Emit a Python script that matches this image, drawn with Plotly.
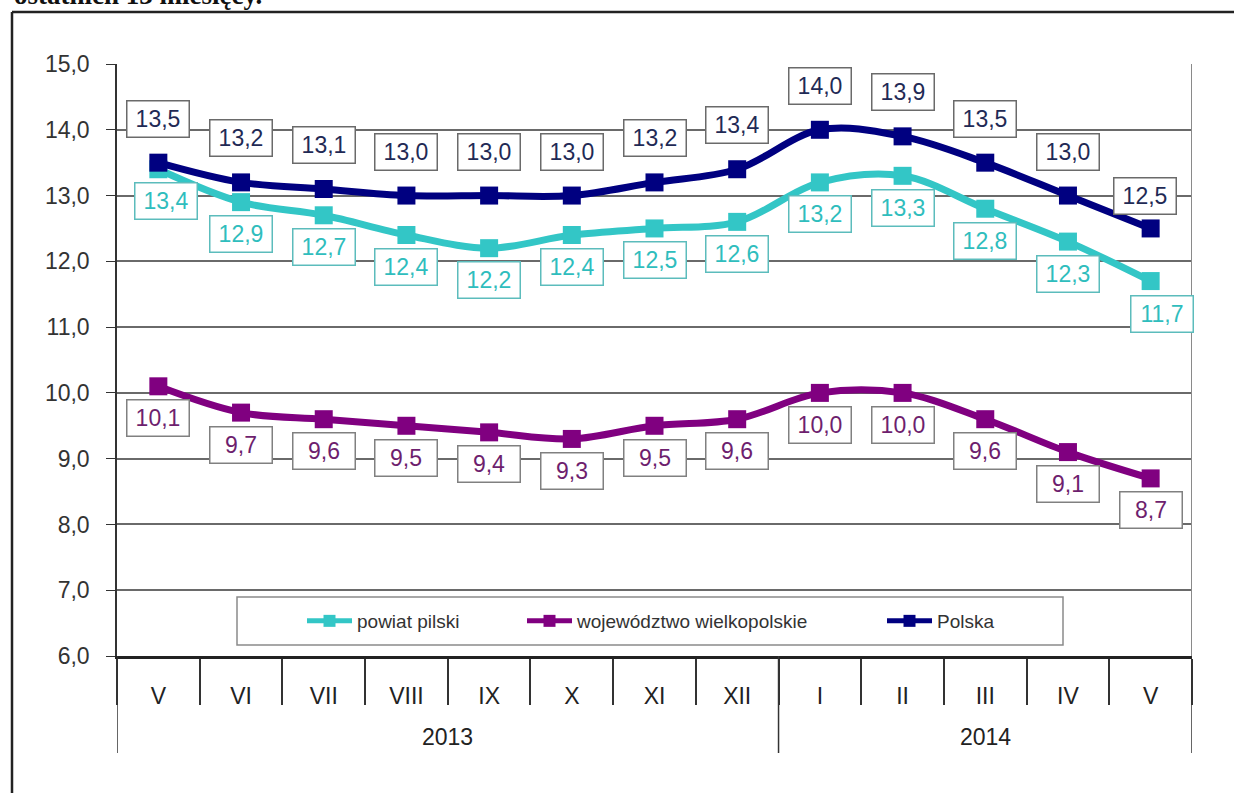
import plotly.graph_objects as go

# dane: stopa bezrobocia (%) w ostatnich 13 miesiącach
months = ["V", "VI", "VII", "VIII", "IX", "X", "XI", "XII", "I", "II", "III", "IV", "V"]
years = ["2013", "2013", "2013", "2013", "2013", "2013", "2013", "2013",
         "2014", "2014", "2014", "2014", "2014"]

powiat_pilski = [13.4, 12.9, 12.7, 12.4, 12.2, 12.4, 12.5, 12.6, 13.2, 13.3, 12.8, 12.3, 11.7]
wielkopolskie = [10.1, 9.7, 9.6, 9.5, 9.4, 9.3, 9.5, 9.6, 10.0, 10.0, 9.6, 9.1, 8.7]
polska = [13.5, 13.2, 13.1, 13.0, 13.0, 13.0, 13.2, 13.4, 14.0, 13.9, 13.5, 13.0, 12.5]

# plot area in pixels (figure is 1234 x 793)
W, H = 1234, 793
L, R, T, B = 117, 1192, 64, 656


def px_x(px):
    return (px - L) / (R - L)


def px_y(py):
    return (B - py) / (B - T)


FONT = "Liberation Sans, Arial, sans-serif"

series = [
    dict(name="powiat pilski", values=powiat_pilski, color="#33c6c6",
         txt="#2fbdbd", border="#5cbcbc", dy=32, legend="legend", text_x=357),
    dict(name="województwo wielkopolskie", values=wielkopolskie, color="#800080",
         txt="#6e1f6e", border="#808080", dy=32, legend="legend2", text_x=577),
    dict(name="Polska", values=polska, color="#000080",
         txt="#1f2a55", border="#6a6a6a", dy=-44, legend="legend3", text_x=937),
]

# small manual tweaks of some label boxes (xshift, yshift)
label_tweaks = {("Polska", 12): (-6, -32),
                ("powiat pilski", 0): (8, 32),
                ("powiat pilski", 12): (11, 33)}

xs = list(range(len(months)))
fig = go.Figure()

for s in series:
    fig.add_trace(go.Scatter(
        x=xs, y=s["values"], name=s["name"], mode="lines+markers",
        line=dict(color=s["color"], width=7, shape="spline", smoothing=1.0),
        marker=dict(symbol="square", size=18, color=s["color"]),
        legend=s["legend"], hoverinfo="name+y",
    ))

annotations = []
for s in series:
    for i, v in enumerate(s["values"]):
        dx, dy = label_tweaks.get((s["name"], i), (0, s["dy"]))
        annotations.append(dict(
            x=i, y=v, xref="x", yref="y", showarrow=False,
            text=f"{v:.1f}".replace(".", ","),
            font=dict(family=FONT, size=23, color=s["txt"]),
            bgcolor="white", bordercolor=s["border"], borderwidth=1.5,
            borderpad=1, width=59, height=33,
            xshift=dx, yshift=-dy,
        ))

# year labels centred under their month groups
year_names = []
for y in years:
    if y not in year_names:
        year_names.append(y)
for y in year_names:
    idx = [i for i, yy in enumerate(years) if yy == y]
    annotations.append(dict(
        x=(idx[0] + idx[-1]) / 2, y=px_y(737), xref="x", yref="paper",
        text=y, showarrow=False, yanchor="middle",
        font=dict(family=FONT, size=23, color="#222"),
    ))

# caption line above the frame (cut by the page edge, as in the source scan)
annotations.append(dict(
    x=px_x(12), y=px_y(-5), xref="paper", yref="paper", xanchor="left",
    yanchor="middle", showarrow=False, text="<b>ostatnich 13 miesięcy.</b>",
    font=dict(family="Liberation Serif, Times New Roman, serif", size=27, color="#111"),
))

shapes = []
# year separators (full depth) at the group boundaries
bounds = [-0.5] + [i - 0.5 for i in range(1, len(years)) if years[i] != years[i - 1]] + [len(years) - 0.5]
for b in bounds:
    shapes.append(dict(type="line", xref="x", yref="paper", x0=b, x1=b,
                       y0=px_y(753), y1=0, line=dict(color="#333", width=1.5)))
# right border of the plot area
shapes.append(dict(type="line", xref="x", yref="paper", x0=len(years) - 0.5, x1=len(years) - 0.5,
                   y0=0, y1=1, line=dict(color="#8a8a8a", width=2)))
# legend box
shapes.append(dict(type="rect", xref="paper", yref="paper", x0=px_x(237), x1=px_x(1063),
                   y0=px_y(645), y1=px_y(597), fillcolor="white",
                   line=dict(color="#8a8a8a", width=1.5), layer="above"))
# outer frame of the figure
shapes.append(dict(type="line", xref="paper", yref="paper", x0=px_x(12), x1=px_x(W + 5),
                   y0=px_y(12), y1=px_y(12), line=dict(color="#222", width=2.5)))
shapes.append(dict(type="line", xref="paper", yref="paper", x0=px_x(12), x1=px_x(12),
                   y0=px_y(12), y1=px_y(H + 5), line=dict(color="#222", width=2.5)))

legend_common = dict(orientation="h", yanchor="middle", xanchor="left", y=px_y(621),
                     bgcolor="rgba(0,0,0,0)", borderwidth=0, itemwidth=45,
                     itemsizing="constant",
                     font=dict(family=FONT, size=19, color="#333"))
legends = {}
for s in series:
    legends[s["legend"]] = dict(legend_common, x=px_x(s["text_x"] - 55))

fig.update_layout(
    width=W, height=H, autosize=False,
    margin=dict(l=L, r=W - R, t=T, b=H - B),
    paper_bgcolor="white", plot_bgcolor="white",
    separators=", ",
    showlegend=True,
    annotations=annotations,
    shapes=shapes,
    **legends,
)

fig.update_yaxes(
    range=[6, 15], dtick=1, tickformat=".1f",
    showgrid=True, gridcolor="#6a6a6a", gridwidth=1.6,
    showline=True, linecolor="#333", linewidth=1.5,
    ticks="outside", ticklen=9, tickcolor="#333", ticklabelstandoff=12,
    tickfont=dict(family=FONT, size=23, color="#333"),
    zeroline=False, fixedrange=True,
)
fig.update_xaxes(
    range=[-0.5, len(months) - 0.5], tickvals=xs, ticktext=months,
    showgrid=False, zeroline=False, showline=True, linecolor="#222", linewidth=2.5,
    ticks="", ticklabelstandoff=18,
    tickfont=dict(family=FONT, size=23, color="#222"),
    minor=dict(tickvals=[i - 0.5 for i in range(len(months) + 1)], ticks="outside",
               ticklen=46, tickwidth=1.5, tickcolor="#333", showgrid=False),
    fixedrange=True,
)

fig.write_html("out.html", config={"displayModeBar": False},
               post_script="document.body.style.margin='0';")
